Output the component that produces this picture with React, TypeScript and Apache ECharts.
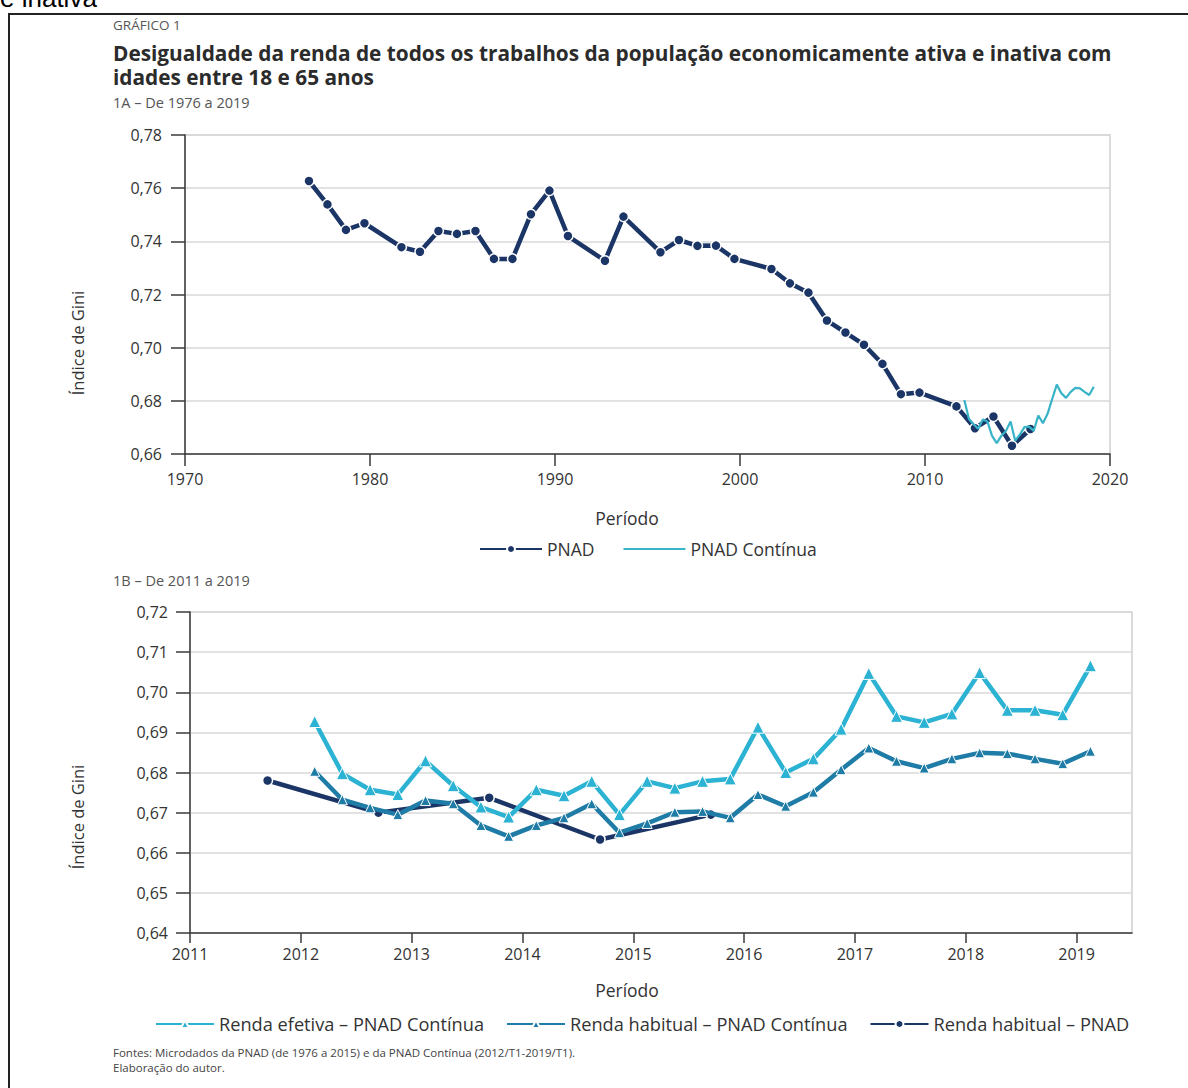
import React, { useEffect, useRef } from "react";
import * as echarts from "echarts";

// ---------- DATA ----------
// 1A – PNAD (annual, September reference)
const pnadYears = [
  1976, 1977, 1978, 1979, 1981, 1982, 1983, 1984, 1985, 1986, 1987, 1988, 1989, 1990,
  1992, 1993, 1995, 1996, 1997, 1998, 1999, 2001, 2002, 2003, 2004, 2005, 2006, 2007,
  2008, 2009, 2011, 2012, 2013, 2014, 2015,
];
const pnadGini = [
  0.7627, 0.7539, 0.7443, 0.7468, 0.7378, 0.7361, 0.7439, 0.7428, 0.7439, 0.7334, 0.7334,
  0.7502, 0.7591, 0.742, 0.7327, 0.7493, 0.7359, 0.7405, 0.7383, 0.7384, 0.7334, 0.7296,
  0.7242, 0.7207, 0.7102, 0.7057, 0.7011, 0.6939, 0.6825, 0.6831, 0.6779, 0.6697, 0.6741,
  0.6631, 0.6694,
];

// 1B – PNAD Contínua (quarterly)
const contQuarters = [
  "2012/T1", "2012/T2", "2012/T3", "2012/T4",
  "2013/T1", "2013/T2", "2013/T3", "2013/T4",
  "2014/T1", "2014/T2", "2014/T3", "2014/T4",
  "2015/T1", "2015/T2", "2015/T3", "2015/T4",
  "2016/T1", "2016/T2", "2016/T3", "2016/T4",
  "2017/T1", "2017/T2", "2017/T3", "2017/T4",
  "2018/T1", "2018/T2", "2018/T3", "2018/T4",
  "2019/T1",
];
const rendaEfetivaCont = [
  0.6927, 0.6797, 0.6757, 0.6745, 0.6829, 0.6767, 0.6714, 0.6689,
  0.6757, 0.6742, 0.6778, 0.6695, 0.6778, 0.6761, 0.6778, 0.6784,
  0.6913, 0.68, 0.6834, 0.6908, 0.7047, 0.694, 0.6925, 0.6946,
  0.7049, 0.6955, 0.6955, 0.6944, 0.7066,
];
const rendaHabitualCont = [
  0.6803, 0.6732, 0.6712, 0.6695, 0.673, 0.6722, 0.6668, 0.6641,
  0.6668, 0.6687, 0.6722, 0.665, 0.6673, 0.6701, 0.6703, 0.6687,
  0.6745, 0.6716, 0.6751, 0.6807, 0.6861, 0.6828, 0.6811, 0.6834,
  0.6849, 0.6847, 0.6834, 0.6822, 0.6853,
];
// 1B – PNAD habitual (annual)
const pnadHabYears = [2011, 2012, 2013, 2014, 2015];
const pnadHabGini = [0.678, 0.67, 0.6737, 0.6633, 0.6695];

const xTicks1A = [1970, 1980, 1990, 2000, 2010, 2020];
const xTicks1B = [2011, 2012, 2013, 2014, 2015, 2016, 2017, 2018, 2019];

// ---------- helpers ----------
const annualX = (y: number) => y + 0.7; // PNAD: September reference
const quarterX = (q: string) => {
  const [y, t] = q.split("/T");
  return Number(y) + (Number(t) - 1) / 4 + 0.125;
};
const fmtGini = (v: number) => v.toFixed(2).replace(".", ",");

const FONT = '"Open Sans", "Noto Sans", sans-serif';
const TXT = "#333333";
const NAVY = "#1b3566";
const CYAN = "#2cb2d2";
const MIDBLUE = "#1f7ca6";
const TEAL = "#38b3c8";

export default function App() {
  const ref = useRef<HTMLDivElement>(null);
  useEffect(() => {
    if (!ref.current) return;
    const chart = echarts.init(ref.current, undefined, { renderer: "svg" });

    const pnadData = pnadYears.map((y, i) => [annualX(y), pnadGini[i]]);
    const habContData = contQuarters.map((q, i) => [quarterX(q), rendaHabitualCont[i]]);
    const efeContData = contQuarters.map((q, i) => [quarterX(q), rendaEfetivaCont[i]]);
    const pnadHabData = pnadHabYears.map((y, i) => [annualX(y), pnadHabGini[i]]);

    const axisLine = { show: true, lineStyle: { color: "#3a3a3a", width: 1.5 } };
    const axisLabelBase = { color: TXT, fontFamily: FONT, fontSize: 16 };
    const splitLine = { show: true, lineStyle: { color: "#d9d9d9", width: 1.5 } };

    chart.setOption({
      animation: false,
      backgroundColor: "#ffffff",
      grid: [
        { left: 185, top: 135, width: 925, height: 319, show: true, borderColor: "#d0d0d0", borderWidth: 1.5, backgroundColor: "transparent" },
        { left: 190, top: 612, width: 942, height: 321, show: true, borderColor: "#d0d0d0", borderWidth: 1.5, backgroundColor: "transparent" },
      ],
      xAxis: [
        {
          gridIndex: 0, type: "value", min: 1970, max: 2020, interval: 10,
          axisLine, splitLine: { show: false },
          axisTick: { show: true, length: 12, lineStyle: { color: "#3a3a3a", width: 1.5 }, customValues: xTicks1A },
          axisLabel: { ...axisLabelBase, margin: 17, customValues: xTicks1A, formatter: (v: number) => String(v) },
        },
        {
          gridIndex: 1, type: "value", min: 2011, max: 2019.5, interval: 1,
          axisLine, splitLine: { show: false },
          axisTick: { show: true, length: 10, lineStyle: { color: "#3a3a3a", width: 1.5 }, customValues: xTicks1B },
          axisLabel: { ...axisLabelBase, margin: 13, customValues: xTicks1B, formatter: (v: number) => String(v) },
        },
      ],
      yAxis: [
        {
          gridIndex: 0, type: "value", min: 0.66, max: 0.78, interval: 0.02,
          axisLine, splitLine,
          axisTick: { show: true, length: 14, lineStyle: { color: "#3a3a3a", width: 1.5 } },
          axisLabel: { ...axisLabelBase, margin: 23, formatter: fmtGini },
        },
        {
          gridIndex: 1, type: "value", min: 0.64, max: 0.72, interval: 0.01,
          axisLine, splitLine,
          axisTick: { show: true, length: 14, lineStyle: { color: "#3a3a3a", width: 1.5 } },
          axisLabel: { ...axisLabelBase, margin: 22, formatter: fmtGini },
        },
      ],
      legend: [
        {
          left: 474, top: 535, itemWidth: 62, itemHeight: 10, itemGap: 28,
          textStyle: { color: TXT, fontFamily: FONT, fontSize: 17.5 },
          data: ["PNAD", { name: "PNAD Contínua", itemStyle: { opacity: 0 } }],
        },
        {
          left: 150, top: 1010, itemWidth: 58, itemHeight: 10, itemGap: 22,
          textStyle: { color: TXT, fontFamily: FONT, fontSize: 18.2 },
          data: ["Renda efetiva – PNAD Contínua", "Renda habitual – PNAD Contínua", "Renda habitual – PNAD"],
        },
      ],
      series: [
        {
          name: "PNAD", type: "line", xAxisIndex: 0, yAxisIndex: 0, data: pnadData,
          symbol: "circle", symbolSize: 10, showSymbol: true,
          lineStyle: { color: NAVY, width: 4.5 },
          itemStyle: { color: NAVY, borderColor: "#ffffff", borderWidth: 1.5 },
          z: 2,
        },
        {
          name: "PNAD Contínua", type: "line", xAxisIndex: 0, yAxisIndex: 0, data: habContData,
          symbol: "none", showSymbol: false,
          lineStyle: { color: TEAL, width: 2.2 },
          itemStyle: { color: TEAL },
          z: 3,
        },
        {
          name: "Renda habitual – PNAD", type: "line", xAxisIndex: 1, yAxisIndex: 1, data: pnadHabData,
          symbol: "circle", symbolSize: 10,
          lineStyle: { color: NAVY, width: 4.5 },
          itemStyle: { color: NAVY, borderColor: "#ffffff", borderWidth: 1.5 },
          z: 2,
        },
        {
          name: "Renda habitual – PNAD Contínua", type: "line", xAxisIndex: 1, yAxisIndex: 1, data: habContData,
          symbol: "triangle", symbolSize: 10,
          lineStyle: { color: MIDBLUE, width: 4.5 },
          itemStyle: { color: MIDBLUE, borderColor: "#ffffff", borderWidth: 1 },
          z: 3,
        },
        {
          name: "Renda efetiva – PNAD Contínua", type: "line", xAxisIndex: 1, yAxisIndex: 1, data: efeContData,
          symbol: "triangle", symbolSize: 12,
          lineStyle: { color: CYAN, width: 4.5 },
          itemStyle: { color: CYAN, borderColor: "#ffffff", borderWidth: 1 },
          z: 4,
        },
      ],
      graphic: [
        { type: "text", left: 0, top: -15, style: { text: "e inativa", fontFamily: '"Liberation Sans", Arial, sans-serif', fontSize: 26, fill: "#000" } },
        { type: "line", shape: { x1: 8, y1: 14, x2: 1188, y2: 14 }, style: { stroke: "#222", lineWidth: 2 } },
        { type: "line", shape: { x1: 9, y1: 14, x2: 9, y2: 1088 }, style: { stroke: "#222", lineWidth: 2 } },
        { type: "text", left: 113, top: 18, style: { text: "GRÁFICO 1", fontFamily: FONT, fontSize: 13.5, fill: "#555" } },
        {
          type: "text", x: 113, y: 53,
          style: {
            text: "Desigualdade da renda de todos os trabalhos da população economicamente ativa e inativa com",
            fontFamily: FONT, fontSize: 20.8, fontWeight: "bold", fill: "#2b2b2b", verticalAlign: "middle", lineHeight: 22,
          },
        },
        {
          type: "text", x: 113, y: 77,
          style: {
            text: "idades entre 18 e 65 anos",
            fontFamily: FONT, fontSize: 20.8, fontWeight: "bold", fill: "#2b2b2b", verticalAlign: "middle", lineHeight: 22,
          },
        },
        { type: "text", left: 113, top: 95, style: { text: "1A – De 1976 a 2019", fontFamily: FONT, fontSize: 14.5, fill: "#555" } },
        { type: "text", left: 113, top: 573, style: { text: "1B – De 2011 a 2019", fontFamily: FONT, fontSize: 14.5, fill: "#555" } },
        { type: "text", x: 77, y: 343, rotation: Math.PI / 2, style: { text: "Índice de Gini", fontFamily: FONT, fontSize: 16.5, fill: TXT, align: "center", verticalAlign: "middle" } },
        { type: "text", x: 77, y: 817, rotation: Math.PI / 2, style: { text: "Índice de Gini", fontFamily: FONT, fontSize: 16.5, fill: TXT, align: "center", verticalAlign: "middle" } },
        { type: "text", x: 627, y: 518, style: { text: "Período", fontFamily: FONT, fontSize: 17.5, fill: TXT, align: "center", verticalAlign: "middle" } },
        { type: "text", x: 627, y: 990, style: { text: "Período", fontFamily: FONT, fontSize: 17.5, fill: TXT, align: "center", verticalAlign: "middle" } },
        {
          type: "text", left: 113, top: 1045,
          style: {
            text: "Fontes: Microdados da PNAD (de 1976 a 2015) e da PNAD Contínua (2012/T1-2019/T1).\nElaboração do autor.",
            fontFamily: FONT, fontSize: 11.5, fill: "#444", lineHeight: 15,
          },
        },
      ],
    });

    return () => chart.dispose();
  }, []);

  return (
    <div
      ref={ref}
      style={{ position: "fixed", left: 0, top: 0, width: 1188, height: 1088, background: "#fff" }}
    />
  );
}
